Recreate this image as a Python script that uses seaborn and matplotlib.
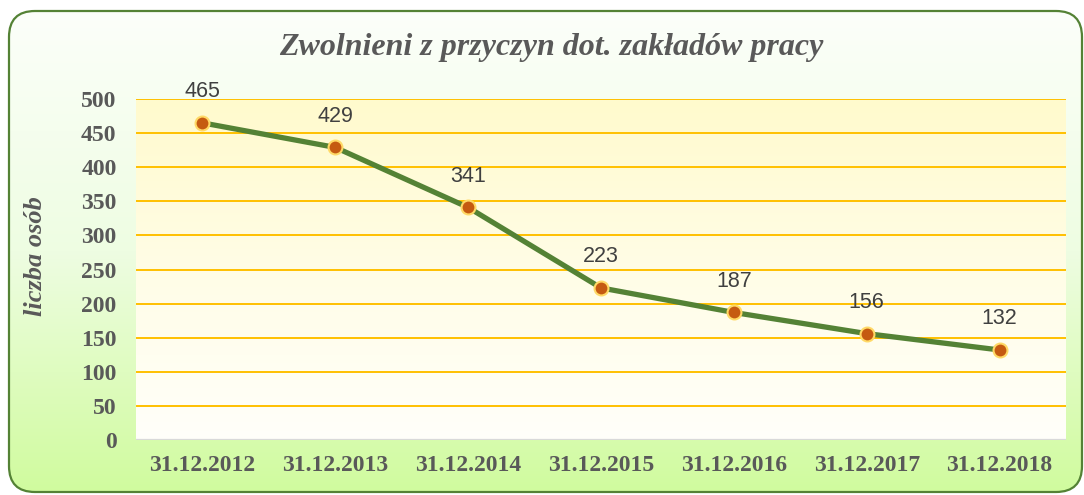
"""Wykres liniowy: zwolnienia z przyczyn dot. zakladow pracy."""

import matplotlib.pyplot as plt
import numpy as np
import pandas as pd
import seaborn as sns
from matplotlib.colors import LinearSegmentedColormap
from matplotlib.patches import FancyBboxPatch

dates = ["31.12.2012", "31.12.2013", "31.12.2014", "31.12.2015",
         "31.12.2016", "31.12.2017", "31.12.2018"]
values = [465, 429, 341, 223, 187, 156, 132]
y_ticks = [0, 50, 100, 150, 200, 250, 300, 350, 400, 450, 500]

title = "Zwolnieni z przyczyn dot. zakładów pracy"
y_label = "liczba osób"

df = pd.DataFrame({"data": dates, "liczba": values})

sns.set_style("white")
plt.rcParams["font.family"] = ["Liberation Serif", "DejaVu Serif"]

fig = plt.figure(figsize=(10.84, 4.95), dpi=100)

# tlo calego wykresu - gradient w zaokraglonej ramce
bg = fig.add_axes([0, 0, 1, 1], zorder=-10)
bg.set_xlim(0, 1084)
bg.set_ylim(495, 0)
bg.axis("off")
grad_cmap = LinearSegmentedColormap.from_list("bg", ["#fcfffa", "#eefde2", "#d0fb9e"])
grad = np.linspace(0, 1, 256).reshape(-1, 1)
im = bg.imshow(grad, cmap=grad_cmap, extent=[8, 1084, 493, 10], aspect="auto")
box = FancyBboxPatch((9, 11), 1073, 481, boxstyle="round,pad=0,rounding_size=26",
                     facecolor="none", edgecolor="#548235", linewidth=1.6)
bg.add_patch(box)
im.set_clip_path(box)

# obszar wykresu
ax = fig.add_axes([136 / 1084, 1 - 440 / 495, 930 / 1084, 341 / 495])
ax.set_facecolor("none")
area_cmap = LinearSegmentedColormap.from_list("area", ["#fffacd", "#fffde6", "#fffffa"])
ax.imshow(grad, cmap=area_cmap, extent=[-0.5, 6.5, 0, 500], aspect="auto", zorder=0)

for t in y_ticks[1:]:
    ax.axhline(t, color="#ffc000", linewidth=1.4, zorder=1)
ax.axhline(0, color="#d9d9d9", linewidth=1.6, zorder=1)

sns.lineplot(data=df, x="data", y="liczba", ax=ax, color="#548235", linewidth=3.8,
             marker="o", markersize=10, markerfacecolor="#c55a11",
             markeredgecolor="#ffd966", markeredgewidth=1.5, zorder=3, sort=False)

for i, v in enumerate(values):
    ax.annotate(str(v), (i, v), xytext=(0, 15), textcoords="offset points",
                ha="center", va="bottom", fontsize=15.5, color="#404040",
                family=["Liberation Sans", "DejaVu Sans"])

ax.set_xlim(-0.5, 6.5)
ax.set_ylim(0, 500)
ax.set_yticks(y_ticks)
ax.set_yticklabels([str(t) for t in y_ticks], fontsize=17, fontweight="bold", color="#595959")
ax.set_xticks(range(len(dates)))
ax.set_xticklabels(dates, fontsize=17, fontweight="bold", color="#595959")
ax.tick_params(axis="y", length=0, pad=14)
ax.tick_params(axis="x", length=0, pad=11)
for s in ax.spines.values():
    s.set_visible(False)
ax.set_xlabel("")
ax.set_ylabel(y_label, fontsize=19, fontweight="bold", fontstyle="italic",
              color="#595959")
ax.yaxis.set_label_coords(-89 / 930, 0.54)

fig.text(551 / 1084, 1 - 48 / 495, title, ha="center", va="center", fontsize=23,
         fontweight="bold", fontstyle="italic", color="#595959")

fig.savefig("out.png", dpi=100)
